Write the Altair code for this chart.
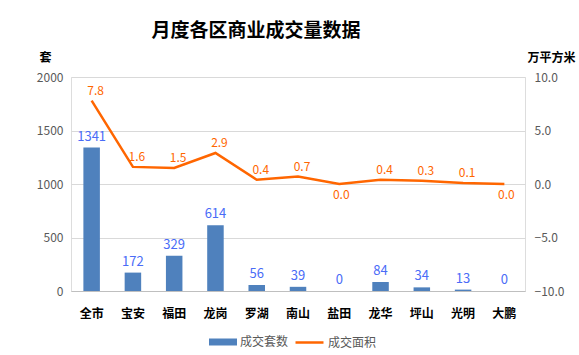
import altair as alt
import pandas as pd

districts = ["全市", "宝安", "福田", "龙岗", "罗湖", "南山", "盐田", "龙华", "坪山", "光明", "大鹏"]
units = [1341, 172, 329, 614, 56, 39, 0, 84, 34, 13, 0]
areas = [7.8, 1.6, 1.5, 2.9, 0.4, 0.7, 0.0, 0.4, 0.3, 0.1, 0.0]
left_ticks = [0, 500, 1000, 1500, 2000]
right_ticks = [-10, -5, 0, 5, 10]

df = pd.DataFrame({
    "district": districts,
    "units": units,
    "area": areas,
    "s1": ["成交套数"] * len(districts),
    "s2": ["成交面积"] * len(districts),
})

FONT = "Noto Sans CJK SC"
BLUE = "#4f81bd"
ORANGE = "#ff6600"
GREY = "#595959"

x = alt.X(
    "district:N", sort=districts,
    scale=alt.Scale(paddingInner=0.6, paddingOuter=0.3),
    axis=alt.Axis(title=None, labelAngle=0, labelFontWeight="bold", labelColor="#000000",
                  labelFontSize=12, labelPadding=17, ticks=False, domain=True,
                  domainColor="#bfbfbf", labelFont=FONT),
)

y_left = alt.Y(
    "units:Q", scale=alt.Scale(domain=[0, 2000]),
    axis=alt.Axis(values=left_ticks, format="d", title="套", titleAngle=0, titleX=-26,
                  titleY=-20, titleAlign="center", titleBaseline="middle", titleFontSize=12,
                  titleFontWeight="bold", titleColor="#000000", titleFont=FONT,
                  labelColor=GREY, labelFontSize=12, labelPadding=8, labelFont=FONT,
                  ticks=False, domain=False, grid=True, gridColor="#d9d9d9"),
)

y_right = alt.Y(
    "area:Q", scale=alt.Scale(domain=[-10, 10]),
    axis=alt.Axis(orient="right", values=right_ticks, format=".1f", title="万平方米",
                  titleAngle=0, titleX=26, titleY=-20, titleAlign="center",
                  titleBaseline="middle", titleFontSize=12, titleFontWeight="bold",
                  titleColor="#000000", titleFont=FONT, labelColor=GREY, labelFontSize=12,
                  labelPadding=9, labelFont=FONT, ticks=False, domain=False, grid=False),
)

bars = alt.Chart(df).mark_bar().encode(
    x=x, y=y_left,
    color=alt.Color("s1:N", scale=alt.Scale(range=[BLUE]),
                    legend=alt.Legend(title=None, orient="none", legendX=137, legendY=250,
                                      symbolType="M-1,-0.25H1V0.25H-1Z", symbolSize=784,
                                      labelFontSize=12, labelColor=GREY, labelFont=FONT,
                                      labelOffset=2, padding=0)),
)
bar_text = alt.Chart(df).mark_text(dy=-4, baseline="bottom", color="#4a6cf7",
                                   fontSize=13, font=FONT).encode(
    x=x, y=y_left, text="units:Q")

line = alt.Chart(df).mark_line(strokeWidth=2.5, interpolate="linear").encode(
    x=x, y=y_right,
    stroke=alt.Stroke("s2:N", scale=alt.Scale(range=[ORANGE]),
                      legend=alt.Legend(title=None, orient="none", legendX=223, legendY=250,
                                        symbolType="stroke", symbolSize=784,
                                        symbolStrokeWidth=2.5, labelFontSize=12,
                                        labelColor=GREY, labelFont=FONT, labelOffset=3,
                                        padding=0)),
)
line_text_up = alt.Chart(df).transform_filter("datum.area > 0").mark_text(
    dx=4, dy=-10, baseline="middle", color=ORANGE, fontSize=12, font=FONT).encode(
    x=x, y=y_right, text=alt.Text("area:Q", format=".1f"))
line_text_down = alt.Chart(df).transform_filter("datum.area <= 0").mark_text(
    dx=2, dy=11, baseline="middle", color=ORANGE, fontSize=12, font=FONT).encode(
    x=x, y=y_right, text=alt.Text("area:Q", format=".1f"))

left = alt.layer(bars, bar_text)
right = alt.layer(line, line_text_up, line_text_down)

chart = alt.layer(left, right).resolve_scale(y="independent").properties(
    width=454, height=214,
    autosize=alt.AutoSizeParams(type="none"),
    padding={"left": 71, "top": 77, "right": 54, "bottom": 64},
    title=alt.TitleParams("月度各区商业成交量数据", fontSize=19, font=FONT, fontWeight="bold",
                          color="#000000", anchor="middle", frame="group", dx=-42, offset=10),
).configure_view(stroke=None).configure(background="#ffffff")

chart.save("out.html", embed_options={"renderer": "svg", "actions": False})
